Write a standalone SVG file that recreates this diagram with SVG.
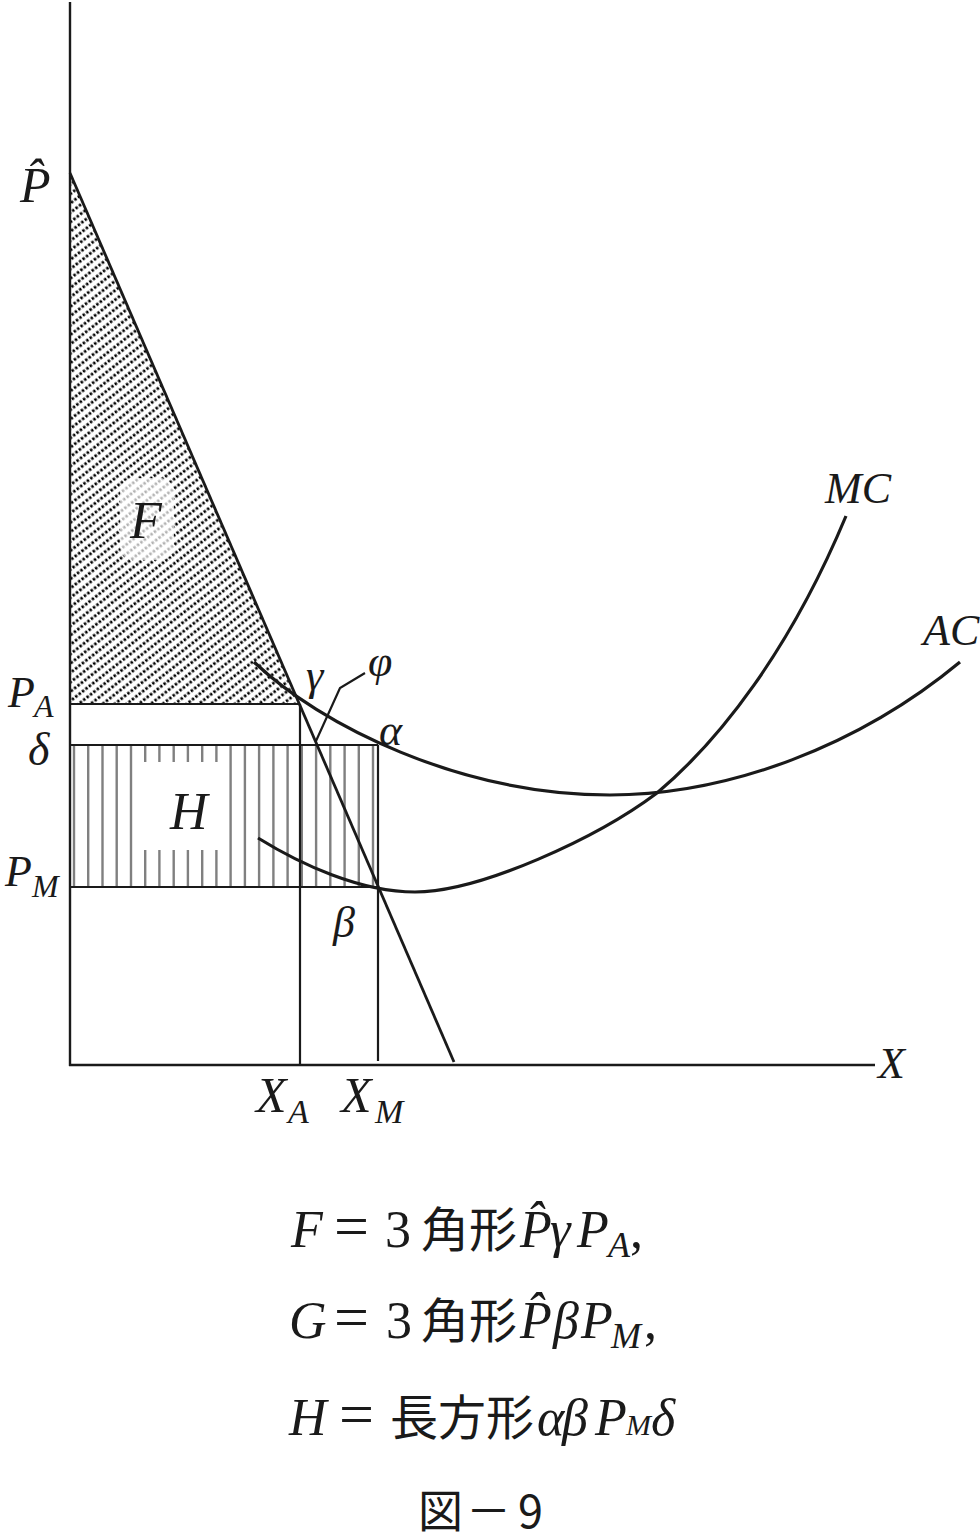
<svg xmlns="http://www.w3.org/2000/svg" width="980" height="1540" viewBox="0 0 980 1540">
<style>
.ax{stroke:#1a1a1a;stroke-width:2.4;fill:none}
.ln{stroke:#1a1a1a;stroke-width:2.2;fill:none}
.cv{stroke:#1a1a1a;stroke-width:3.2;fill:none}
.vh{stroke:#808080;stroke-width:2.4;fill:none}
.m{font-family:"Liberation Serif","DejaVu Serif",serif;font-style:italic;fill:#1a1a1a}
.u{font-family:"Liberation Serif","DejaVu Serif",serif;fill:#1a1a1a}
.j{font-family:"Noto Sans CJK JP","Noto Sans CJK SC",sans-serif;fill:#1a1a1a}
</style>
<defs>
<pattern id="hatchF" patternUnits="userSpaceOnUse" width="8.6" height="7.4" patternTransform="rotate(-38)">
<line x1="0" y1="3.7" x2="8.6" y2="3.7" stroke="#000" stroke-width="2.6" stroke-dasharray="2.5 1.8"/>
</pattern>
</defs>
<rect width="980" height="1540" fill="#fff"/>

<g id="areaF">
<polygon points="70,173 300,704 70,704" fill="url(#hatchF)"/>
<rect x="120" y="478" width="54" height="82" rx="14" fill="#fff" opacity="0.7"/>
</g>

<g id="areaH">
<path class="vh" d="M74,746V886M88.2,746V886M102.5,746V886M116.7,746V886M131,746V886M145.2,746V886M159.4,746V886M173.7,746V886M187.9,746V886M202.2,746V886M216.4,746V886M230.6,746V886M244.9,746V886M259.1,746V886M273.4,746V886M287.6,746V886M301.8,746V886M316.1,746V886M330.3,746V886M344.6,746V886M358.8,746V886M373,746V886"/>
<rect x="142" y="762" width="86" height="88" fill="#fff"/>
</g>

<g id="axes">
<line class="ax" x1="70" y1="2" x2="70" y2="1066"/>
<line class="ax" x1="69" y1="1065" x2="875" y2="1065"/>
</g>

<g id="connectors">
<line class="ln" x1="70" y1="704" x2="300" y2="704"/>
<line class="ln" x1="70" y1="745" x2="378" y2="745"/>
<line class="ln" x1="70" y1="887" x2="378" y2="887"/>
<line class="ln" x1="300" y1="704" x2="300" y2="1065"/>
<line class="ln" x1="378" y1="745" x2="378" y2="1061"/>
<line class="cv" style="stroke-width:2.8" x1="70" y1="173" x2="454" y2="1062"/>
<path id="AC" class="cv" d="M254,662 C320,725 460,795 610,795 C730,795 860,745 960,662"/>
<path id="MC" class="cv" d="M258,838 C300,864 360,892 415,892 C480,892 597,838 657,793 C720,740 790,650 846,516"/>
<path class="ln" d="M316,741 L340,688 L365,673"/>
</g>

<g id="labels">
<text class="m" x="20" y="202" font-size="50">P̂</text>
<text class="m" x="8" y="707" font-size="44">P</text>
<text class="m" x="34" y="717" font-size="32">A</text>
<text class="m" x="28" y="765" font-size="46">δ</text>
<text class="m" x="5" y="886" font-size="44">P</text>
<text class="m" x="32" y="897" font-size="32">M</text>
<text class="m" x="130" y="538" font-size="52">F</text>
<text class="m" x="170" y="829" font-size="52">H</text>
<text class="m" x="306" y="690" font-size="44">γ</text>
<text class="m" x="368" y="676" font-size="44">φ</text>
<text class="m" x="379" y="745" font-size="44">α</text>
<text class="m" x="333" y="937" font-size="44">β</text>
<text class="m" x="256" y="1112" font-size="50">X</text>
<text class="m" x="288" y="1123" font-size="34">A</text>
<text class="m" x="341" y="1112" font-size="50">X</text>
<text class="m" x="375" y="1123" font-size="34">M</text>
<text class="m" x="878" y="1078" font-size="44">X</text>
<text class="m" x="825" y="503" font-size="44">MC</text>
<text class="m" x="923" y="645" font-size="44">AC</text>
</g>

<g id="formula">
<text y="1247" font-size="52"><tspan class="m" x="291">F</tspan><tspan class="u" x="334" font-size="62">=</tspan><tspan class="u" x="385">3</tspan><tspan class="j" x="421" font-size="48">角形</tspan><tspan class="m" x="520">P̂</tspan><tspan class="m" x="550">γ</tspan><tspan class="m" x="577">P</tspan><tspan class="m" x="608" y="1257" font-size="36">A</tspan><tspan class="u" x="630" y="1247">,</tspan></text>
<text y="1338" font-size="52"><tspan class="m" x="289">G</tspan><tspan class="u" x="334" font-size="62">=</tspan><tspan class="u" x="386">3</tspan><tspan class="j" x="421" font-size="48">角形</tspan><tspan class="m" x="520">P̂</tspan><tspan class="m" x="553">β</tspan><tspan class="m" x="581">P</tspan><tspan class="m" x="611" y="1348" font-size="36">M</tspan><tspan class="u" x="644" y="1338">,</tspan></text>
<text y="1435" font-size="52"><tspan class="m" x="289">H</tspan><tspan class="u" x="339" font-size="62">=</tspan><tspan class="j" x="390" font-size="48">長方形</tspan><tspan class="m" x="537">α</tspan><tspan class="m" x="562">β</tspan><tspan class="m" x="595">P</tspan><tspan class="m" x="626" font-size="30">M</tspan><tspan class="m" x="651">δ</tspan></text>
<text class="j" y="1528" font-size="45"><tspan x="418">図</tspan><tspan x="466">－</tspan><tspan x="518">9</tspan></text>
</g>
</svg>
